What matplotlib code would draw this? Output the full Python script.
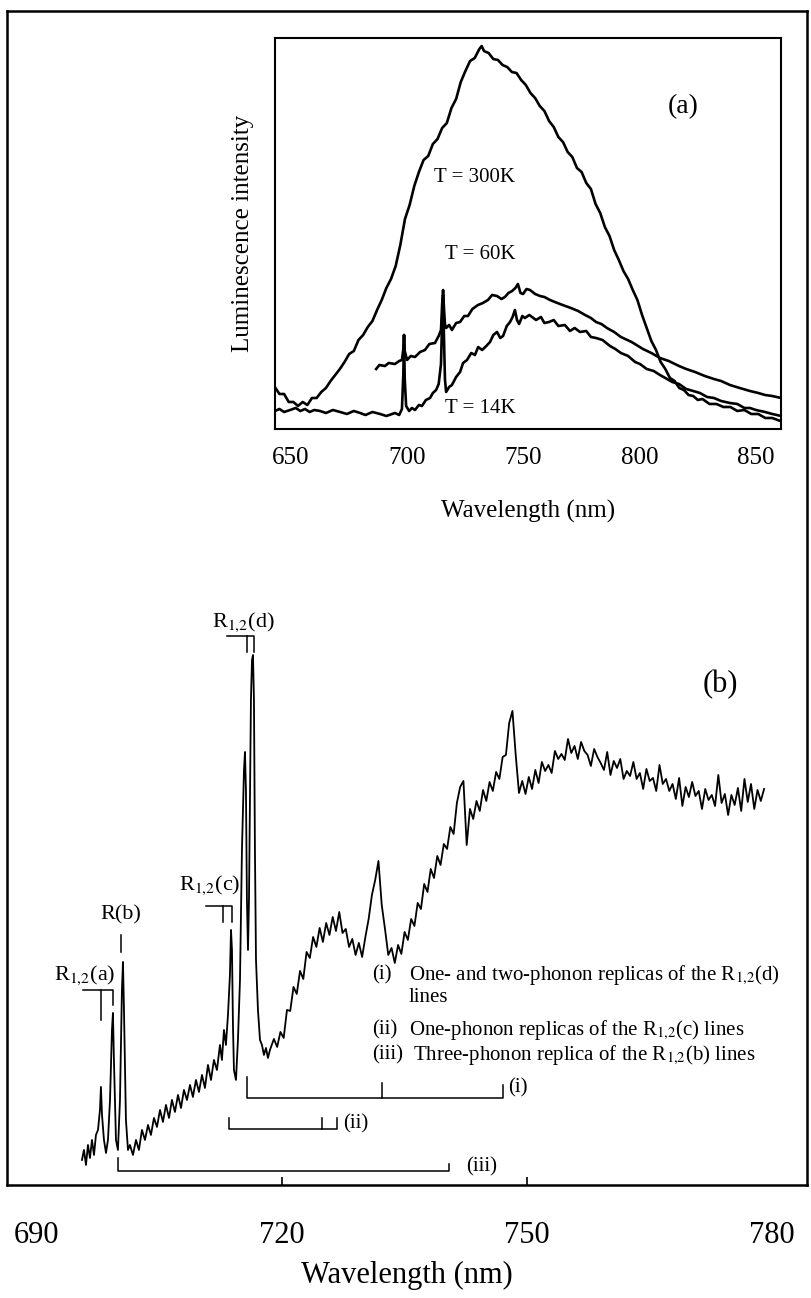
import numpy as np
import matplotlib.pyplot as plt

plt.rcParams['font.family'] = ['Liberation Serif', 'DejaVu Serif']
plt.rcParams['mathtext.fontset'] = 'stix'

# ---- panel (b): low temperature spectrum (arbitrary intensity units)
# sharp-line region
wl_lines = [695.51, 695.75, 696.00, 696.24, 696.49, 696.73, 696.98, 697.22, 697.47, 697.71,
            697.83, 697.96, 698.20, 698.45, 698.69, 698.94, 699.18, 699.30, 699.42, 699.67,
            699.91, 700.16, 700.40, 700.53, 700.65, 700.89, 701.14, 701.38, 701.75, 702.12,
            702.48, 702.85, 703.22, 703.59, 703.95, 704.32, 704.69, 705.06, 705.42, 705.79,
            706.16, 706.52, 706.89, 707.26, 707.63, 707.99, 708.36, 708.73, 709.09, 709.46,
            709.83, 710.20, 710.56, 710.93, 711.30, 711.66, 712.03, 712.40, 712.64, 712.89,
            713.13, 713.38, 713.62, 713.75, 713.87, 713.99, 714.11, 714.36, 714.60, 714.85,
            715.09, 715.34, 715.46, 715.58, 715.70, 715.83, 715.95, 716.07, 716.19, 716.32,
            716.44, 716.56, 716.68, 716.81, 717.05, 717.30, 717.54, 717.78, 718.03, 718.27,
            718.52]
int_lines = [2.5, 3.5, 2.0, 4.0, 2.7, 4.5, 3.0, 5.0, 5.5, 7.5,
             9.8, 7.0, 4.5, 3.2, 4.5, 8.5, 15.5, 17.2, 12.5, 4.5,
             3.5, 8.5, 19.5, 22.3, 17.5, 6.5, 3.5, 4.0, 3.0, 4.5,
             3.5, 5.5, 4.5, 6.0, 5.0, 6.7, 5.8, 7.5, 6.3, 8.0,
             6.7, 8.5, 7.3, 9.0, 7.7, 9.5, 8.5, 10.0, 8.8, 10.5,
             9.3, 11.0, 9.7, 12.0, 10.5, 12.5, 11.5, 14.0, 12.5, 15.5,
             14.0, 17.0, 21.0, 25.5, 23.5, 16.0, 11.5, 10.5, 14.5, 20.5,
             33.5, 41.5, 43.3, 39.5, 28.5, 23.5, 28.5, 38.5, 48.5, 52.5,
             53.0, 48.5, 33.5, 22.5, 17.5, 14.5, 14.0, 13.0, 13.7, 12.7,
             13.5]

# phonon side band region
wl_band = [719.0, 719.4, 719.8, 720.2, 720.6, 721.0, 721.4, 721.8, 722.2, 722.6,
           723.0, 723.4, 723.8, 724.2, 724.6, 725.0, 725.4, 725.8, 726.2, 726.6,
           727.0, 727.4, 727.8, 728.2, 728.6, 729.0, 729.4, 729.8, 730.2, 730.6,
           731.0, 731.4, 731.8, 732.2, 732.6, 733.0, 733.4, 733.8, 734.2, 734.6,
           735.0, 735.4, 735.8, 736.2, 736.6, 737.0, 737.4, 737.8, 738.2, 738.6,
           739.0, 739.4, 739.8, 740.2, 740.6, 741.0, 741.4, 741.8, 742.2, 742.6,
           743.0, 743.4, 743.8, 744.2, 744.6, 745.0, 745.4, 745.8, 746.2, 746.6,
           747.0, 747.4, 747.8, 748.2, 748.6, 749.0, 749.4, 749.8, 750.2, 750.6,
           751.0, 751.4, 751.8, 752.2, 752.6, 753.0, 753.4, 753.8, 754.2, 754.6,
           755.0, 755.4, 755.8, 756.2, 756.6, 757.0, 757.4, 757.8, 758.2, 758.6,
           759.0, 759.4, 759.8, 760.2, 760.6, 761.0, 761.4, 761.8, 762.2, 762.6,
           763.0, 763.4, 763.8, 764.2, 764.6, 765.0, 765.4, 765.8, 766.2, 766.6,
           767.0, 767.4, 767.8, 768.2, 768.6, 769.0, 769.4, 769.8, 770.2, 770.6,
           771.0, 771.4, 771.8, 772.2, 772.6, 773.0, 773.4, 773.8, 774.2, 774.6,
           775.0, 775.4, 775.8, 776.2, 776.6, 777.0, 777.4, 777.8, 778.2, 778.6,
           779.0]
int_band = [14.6, 13.8, 15.3, 14.7, 17.5, 17.4, 19.8, 19.1, 21.4, 20.6,
            23.3, 22.7, 24.8, 23.8, 25.7, 24.3, 26.2, 25.0, 26.8, 25.4,
            27.3, 25.2, 25.6, 23.8, 24.6, 23.0, 24.2, 22.8, 24.8, 26.6,
            29.0, 30.5, 32.4, 28.0, 25.6, 23.0, 23.7, 22.2, 24.0, 23.1,
            25.3, 24.5, 26.6, 25.9, 28.2, 27.6, 30.1, 29.3, 31.6, 30.7,
            32.9, 32.0, 34.1, 33.6, 35.8, 35.1, 38.2, 39.8, 40.4, 34.0,
            37.6, 36.6, 38.4, 37.4, 39.5, 38.4, 40.3, 39.4, 41.3, 40.6,
            42.8, 43.0, 46.2, 47.4, 43.0, 39.2, 40.4, 39.1, 40.8, 39.6,
            41.5, 40.2, 42.3, 41.4, 42.0, 41.2, 43.4, 42.6, 43.1, 42.5,
            44.6, 43.2, 43.9, 42.6, 44.3, 43.4, 43.0, 41.9, 43.6, 42.8,
            42.2, 41.5, 43.3, 41.0, 42.4, 41.7, 42.6, 40.6, 41.4, 40.9,
            42.3, 40.6, 41.2, 39.6, 41.6, 40.4, 40.7, 39.4, 42.0, 40.1,
            40.6, 39.4, 40.1, 38.6, 40.7, 37.9, 39.8, 38.8, 40.3, 38.9,
            39.4, 37.6, 39.6, 38.5, 39.0, 37.9, 41.0, 38.2, 39.1, 37.0,
            39.0, 38.0, 39.7, 37.4, 40.6, 38.3, 40.1, 37.6, 39.5, 38.4,
            39.6]

# ---- panel (a): spectra at three temperatures
wl_300k = [643, 645, 647, 649, 651, 653, 655, 657, 659, 661,
           663, 665, 667, 669, 671, 673, 675, 677, 679, 681,
           683, 685, 687, 689, 691, 693, 695, 697, 699, 701,
           703, 705, 707, 709, 711, 713, 715, 717, 719, 721,
           723, 725, 727, 729, 731, 732, 733, 735, 737, 739,
           741, 743, 745, 747, 749, 751, 753, 755, 757, 759,
           761, 763, 765, 767, 769, 771, 773, 775, 777, 779,
           781, 783, 785, 787, 789, 791, 793, 795, 797, 799,
           801, 803, 805, 807, 809, 811, 813, 815, 817, 819,
           821, 823, 825, 827, 830, 833, 836, 839, 842, 845,
           848, 851, 854, 857, 860.5]
int_300k = [4.2, 3.5, 3.5, 2.7, 2.7, 2.3, 2.7, 2.4, 3.1, 3.1,
            3.7, 4.1, 4.8, 5.4, 6.0, 6.7, 7.5, 7.8, 8.9, 9.4,
            10.2, 10.8, 11.9, 12.9, 14.1, 15.0, 16.3, 18.4, 21.0, 22.4,
            24.3, 25.7, 26.9, 27.3, 28.5, 29.0, 30.1, 30.6, 32.1, 33.0,
            34.7, 35.8, 36.8, 37.1, 38.0, 38.3, 37.8, 37.6, 37.0, 36.9,
            36.4, 36.2, 35.7, 35.6, 34.9, 34.4, 33.6, 33.1, 32.3, 31.8,
            30.8, 30.2, 29.2, 28.7, 27.7, 27.2, 26.1, 25.7, 24.6, 24.0,
            22.5, 21.6, 20.2, 19.3, 17.9, 16.9, 15.8, 15.0, 13.9, 12.9,
            11.4, 10.1, 8.8, 7.9, 6.7, 6.0, 5.1, 4.8, 4.1, 3.9,
            3.4, 3.3, 2.9, 3.0, 2.5, 2.5, 2.2, 2.2, 1.8, 1.9,
            1.5, 1.5, 1.1, 1.1, 0.8]

wl_60k = [686.6, 688.0, 690.4, 692.0, 694.7, 696.5, 697.7, 698.3, 698.6, 698.9,
          699.9, 701.5, 703.3, 705.5, 707.6, 709.5, 711.9, 713.5, 714.5, 715.0,
          715.4, 715.8, 716.2, 716.7, 718.0, 719.2, 721.0, 722.7, 724.5, 726.1,
          728.0, 730.4, 732.5, 734.7, 736.5, 738.6, 740.5, 742.0, 743.5, 745.1,
          746.5, 747.6, 748.7, 749.8, 751.3, 752.8, 755.0, 757.1, 759.0, 761.4,
          763.5, 765.7, 768.0, 770.4, 773.5, 776.5, 779.0, 781.2, 783.5, 785.9,
          789.0, 791.9, 796.5, 801.4, 805.0, 808.7, 812.5, 816.9, 820.0, 823.8,
          828.0, 831.9, 835.0, 838.8, 843.0, 847.4, 851.0, 853.9, 857.0, 860.8]
int_60k = [6.0, 6.4, 6.3, 6.6, 6.5, 6.8, 6.9, 8.0, 9.4, 7.8,
           6.9, 7.3, 7.2, 7.7, 7.9, 8.5, 8.6, 9.3, 9.9, 12.5,
           13.9, 12.0, 10.5, 10.1, 10.4, 9.9, 10.6, 10.7, 11.3, 11.3,
           12.0, 12.4, 12.6, 12.9, 13.4, 13.3, 13.0, 13.2, 13.6, 13.8,
           14.1, 14.5, 13.6, 13.5, 14.0, 13.9, 13.5, 13.3, 13.2, 12.9,
           12.7, 12.5, 12.3, 12.1, 11.8, 11.4, 11.1, 10.7, 10.5, 10.1,
           9.7, 9.2, 8.7, 8.0, 7.6, 7.1, 6.8, 6.3, 6.0, 5.7,
           5.3, 5.0, 4.8, 4.4, 4.1, 3.8, 3.6, 3.4, 3.3, 3.1]

wl_14k = [643.1, 645.0, 647.0, 649.6, 652.0, 654.0, 656.0, 658.0, 660.0, 662.5,
          665.0, 668.0, 671.1, 674.0, 677.0, 679.7, 682.0, 685.0, 688.3, 691.0,
          694.7, 696.5, 697.7, 698.3, 698.6, 698.9, 699.5, 700.8, 702.0, 703.3,
          705.0, 706.3, 708.0, 709.8, 711.0, 712.4, 713.5, 714.5, 715.0, 715.4,
          715.8, 716.2, 716.7, 718.0, 719.2, 721.0, 722.7, 724.0, 725.7, 727.5,
          729.1, 730.5, 732.2, 734.0, 735.6, 737.0, 738.6, 740.0, 741.2, 742.8,
          744.2, 745.3, 746.3, 747.2, 748.1, 749.5, 750.6, 752.5, 755.4, 757.5,
          759.0, 761.0, 763.0, 765.0, 767.8, 770.0, 772.0, 774.3, 777.0, 779.0,
          781.2, 784.0, 787.2, 789.5, 791.9, 795.0, 798.0, 800.1, 803.0, 806.0,
          808.7, 811.0, 814.0, 816.9, 820.0, 823.0, 825.9, 829.0, 831.9, 835.0,
          838.8, 842.0, 845.0, 847.4, 850.0, 853.9, 857.0, 860.8]
int_14k = [1.8, 2.0, 1.7, 1.9, 2.1, 1.8, 2.0, 1.7, 1.9, 1.8,
           1.6, 1.9, 1.7, 1.5, 1.8, 1.6, 1.4, 1.7, 1.5, 1.3,
           1.6, 1.4, 2.0, 5.5, 9.4, 5.0, 2.3, 1.8, 2.1, 1.9,
           2.4, 2.3, 2.9, 3.1, 3.6, 3.9, 4.5, 6.5, 11.0, 13.4,
           9.0, 5.0, 3.7, 4.2, 4.4, 5.2, 5.7, 6.6, 6.9, 7.6,
           7.4, 8.2, 7.9, 8.3, 8.7, 9.4, 9.7, 9.1, 9.3, 10.3,
           10.7, 11.2, 11.9, 10.9, 10.5, 11.3, 11.1, 11.4, 10.9, 11.2,
           10.6, 10.7, 10.9, 10.3, 10.4, 9.8, 10.1, 9.7, 9.8, 9.2,
           9.1, 8.9, 8.3, 8.0, 7.6, 7.3, 6.7, 6.5, 6.0, 5.8,
           5.4, 5.1, 4.7, 4.5, 4.0, 3.8, 3.6, 3.2, 3.1, 2.8,
           2.6, 2.5, 2.1, 2.1, 1.9, 1.7, 1.5, 1.3]

main_ticks = [690, 720, 750, 780]
inset_ticks = [650, 700, 750, 800, 850]
R12 = 'R$_{1{,}2}$'

fig = plt.figure(figsize=(8.12, 12.98), dpi=100)

# main panel (b)
ax = fig.add_axes([0.0086, 0.0871, 0.9852, 0.9044])
ax.plot(np.concatenate([wl_lines, wl_band]), np.concatenate([int_lines, int_band]),
        color='black', lw=1.3)
ax.set_xlim(686.33, 784.25)
ax.set_ylim(0, 117.4)
ax.set_yticks([])
ax.set_xticks(main_ticks)
ax.tick_params(axis='x', direction='in', length=6, width=1.2, labelsize=22, pad=26)
# only the inner ticks show a mark
for t in (ax.xaxis.get_major_ticks()[0], ax.xaxis.get_major_ticks()[-1]):
    t.tick1line.set_visible(False)
for sp in ax.spines.values():
    sp.set_linewidth(1.8)
ax.set_xlabel('Wavelength (nm)', fontsize=22, labelpad=8)

# line labels with brackets
ax.plot([713.26, 716.56, 716.56], [54.9, 54.9, 53.3], color='black', lw=1.1)
ax.plot([715.70, 715.70], [54.9, 53.3], color='black', lw=1.1)
ax.text(715.21, 55.8, R12 + '(d)', fontsize=16, ha='center', va='baseline')

ax.plot([710.69, 713.87, 713.87], [27.9, 27.9, 26.3], color='black', lw=1.1)
ax.plot([712.77, 712.77], [27.9, 26.3], color='black', lw=1.1)
ax.text(711.18, 29.5, R12 + '(c)', fontsize=16, ha='center', va='baseline')

ax.plot([700.28, 700.28], [25.0, 23.3], color='black', lw=1.1)
ax.text(700.28, 26.5, 'R(b)', fontsize=16, ha='center', va='baseline')

ax.plot([695.63, 699.30, 699.30], [19.5, 19.5, 18.0], color='black', lw=1.1)
ax.plot([697.83, 697.83], [19.5, 16.5], color='black', lw=1.1)
ax.text(695.88, 20.5, R12 + '(a)', fontsize=16, ha='center', va='baseline')

ax.text(773.6, 50.0, '(b)', fontsize=22, ha='center', va='center')

# phonon replica brackets
ax.plot([715.70, 715.70, 747.04, 747.04], [10.8, 8.7, 8.7, 10.0], color='black', lw=1.1)
ax.plot([732.23, 732.23], [8.7, 10.2], color='black', lw=1.1)
ax.text(747.65, 9.7, '(i)', fontsize=15, ha='left', va='center')

ax.plot([713.50, 713.50, 726.72, 726.72], [6.7, 5.6, 5.6, 6.7], color='black', lw=1.1)
ax.plot([724.88, 724.88], [5.6, 6.7], color='black', lw=1.1)
ax.text(727.45, 6.1, '(ii)', fontsize=15, ha='left', va='center')

ax.plot([699.91, 699.91, 740.43, 740.43], [2.7, 1.4, 1.4, 2.1], color='black', lw=1.1)
ax.text(742.51, 1.8, '(iii)', fontsize=15, ha='left', va='center')

# legend text
ax.text(731.0, 21.0, '(i)', fontsize=15, ha='left', va='center')
ax.text(735.53, 21.0, 'One- and two-phonon replicas of the ' + R12 + '(d)', fontsize=15, ha='left', va='center')
ax.text(735.53, 18.7, 'lines', fontsize=15, ha='left', va='center')
ax.text(731.0, 15.5, '(ii)', fontsize=15, ha='left', va='center')
ax.text(735.53, 15.5, 'One-phonon replicas of the ' + R12 + '(c) lines', fontsize=15, ha='left', va='center')
ax.text(731.0, 13.0, '(iii)', fontsize=15, ha='left', va='center')
ax.text(736.02, 13.0, 'Three-phonon replica of the ' + R12 + '(b) lines', fontsize=15, ha='left', va='center')

# inset panel (a)
axi = fig.add_axes([0.3387, 0.6695, 0.6232, 0.3012])
axi.plot(wl_300k, int_300k, color='black', lw=1.9)
axi.plot(wl_60k, int_60k, color='black', lw=1.9)
axi.plot(wl_14k, int_14k, color='black', lw=1.9)
axi.set_xlim(643.1, 860.8)
axi.set_ylim(0, 39.1)
axi.set_yticks([])
axi.set_xticks(inset_ticks)
axi.tick_params(axis='x', length=0, labelsize=18, pad=13)
for sp in axi.spines.values():
    sp.set_linewidth(1.5)
axi.set_xlabel('Wavelength (nm)', fontsize=18, labelpad=22)
axi.set_ylabel('Luminescence intensity', fontsize=18, labelpad=15)
axi.text(818.6, 32.2, '(a)', fontsize=20, ha='center', va='center')
axi.text(729.1, 25.2, 'T = 300K', fontsize=15, ha='center', va='center')
axi.text(731.3, 17.5, 'T = 60K', fontsize=15, ha='center', va='center')
axi.text(731.3, 2.0, 'T = 14K', fontsize=15, ha='center', va='center')

fig.savefig('out.png', dpi=100)
